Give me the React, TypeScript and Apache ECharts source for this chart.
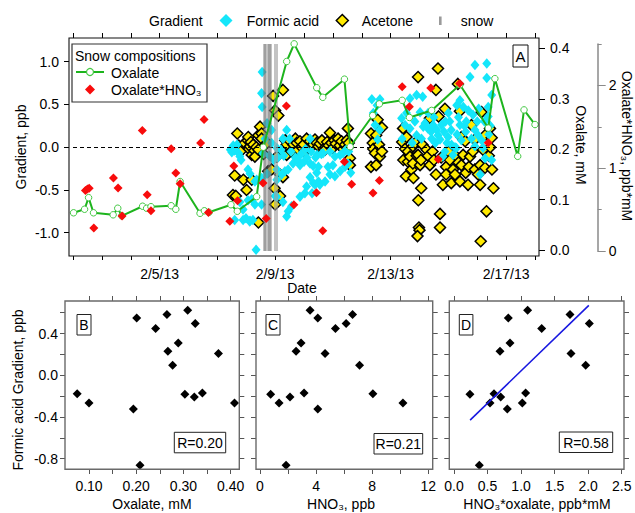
import React, { useEffect, useRef } from 'react';
import * as echarts from 'echarts';

const FONT = '"Liberation Sans", Arial, Helvetica, sans-serif';

// ---------- Panel A data ----------
const dateLabelDays = [5, 9, 13, 17];

const oxalateDates = [2.02, 2.40, 2.54, 2.71, 3.39, 3.55, 3.69, 4.41, 4.55, 4.70, 5.40, 5.56, 5.71, 6.40, 6.55, 6.71, 7.47, 7.69, 8.36, 8.59, 9.40, 9.66, 10.44, 10.65, 11.40, 11.60, 12.38, 12.61, 13.40, 13.65, 14.42, 15.40, 16.38, 16.61, 17.40, 17.62, 18.00];
const oxalateValues = [0.074, 0.081, 0.104, 0.074, 0.070, 0.083, 0.068, 0.087, 0.083, 0.086, 0.088, 0.081, 0.136, 0.073, 0.078, 0.075, 0.090, 0.077, 0.106, 0.204, 0.374, 0.409, 0.322, 0.303, 0.339, 0.205, 0.267, 0.290, 0.297, 0.263, 0.277, 0.328, 0.242, 0.340, 0.186, 0.278, 0.249];

const oxHno3Dates = [2.43, 2.50, 2.56, 2.72, 3.40, 3.56, 3.70, 4.40, 4.57, 4.70, 5.40, 5.56, 5.71, 6.42, 6.54, 6.69, 7.43, 7.57, 7.70, 8.58, 8.69, 9.39, 9.65, 10.43, 10.65, 11.40, 11.65, 12.39, 12.61, 13.40, 13.65, 14.39, 14.65, 15.39, 16.38];
const oxHno3Values = [0.731, 0.748, 0.758, 0.279, 0.881, 0.760, 0.424, 1.455, 0.679, 0.485, 1.236, 0.942, 0.812, 1.305, 1.588, 0.464, 0.358, 1.028, 0.608, 0.822, 0.394, 1.752, 0.558, 0.703, 0.246, 1.079, 0.806, 0.701, 0.852, 1.984, 1.742, 1.970, 1.109, 2.022, 1.307];

const snowDark = [8.61, 8.65, 8.69, 8.73, 8.77, 8.81, 8.85];
const snowLight = [8.99, 9.07];

const acetone: number[][] = [
  [7.54, -0.56], [7.60, -0.33], [7.64, -0.57], [7.69, 0.16], [7.74, 0.02], [7.80, -0.05], [7.90, -0.38], [7.95, 0.05], [8.01, -0.50], [8.05, 0.08], [8.07, 0.12], [8.10, -0.02], [8.13, 0.01], [8.16, 0.06], [8.19, -0.09], [8.19, -0.38], [8.24, 0.03], [8.28, -0.04], [8.30, -0.11], [8.35, 0.00], [8.42, -0.03], [8.42, 0.14], [8.42, -0.88], [8.48, 0.24], [8.53, 0.16], [8.53, 0.10], [8.60, -0.08], [8.65, 0.03], [8.72, 0.05], [8.76, -0.28], [8.88, -0.26], [8.93, 0.60], [8.98, -0.48], [9.00, 0.43], [9.00, -0.67], [9.06, -0.11], [9.11, 0.37], [9.17, -0.32], [9.17, -0.57], [9.27, 0.67], [9.27, -0.35], [9.28, -0.05], [9.35, 0.08],
  [9.40, 0.03], [9.40, -0.09], [9.52, 0.07], [9.57, -0.05], [9.63, 0.03], [9.70, 0.10], [9.75, 0.05], [9.80, -0.03], [9.86, 0.07], [9.92, 0.00], [9.98, 0.03], [10.03, -0.05], [10.09, 0.10], [10.15, -0.01], [10.21, 0.07], [10.27, 0.02], [10.32, 0.03], [10.38, 0.09], [10.44, 0.05], [10.50, 0.01], [10.55, 0.04], [10.62, 0.08], [10.68, -0.02], [10.73, -0.03], [10.80, 0.06], [10.86, 0.02], [10.90, 0.17], [10.95, 0.05], [11.00, -0.01], [11.05, 0.08], [11.10, 0.04], [11.18, 0.10], [11.24, 0.02], [11.30, 0.07], [11.36, -0.02], [11.42, 0.03], [11.48, 0.08], [11.50, -0.01], [11.52, 0.22], [11.59, -0.13], [11.59, -0.21], [11.55, 0.05],
  [12.32, 0.16], [12.32, -0.23], [12.38, 0.05], [12.40, -0.02], [12.46, -0.07], [12.50, 0.14], [12.50, -0.21], [12.55, 0.32], [12.60, 0.03], [12.63, -0.11], [12.70, -0.05], [12.70, 0.23],
  [13.40, 0.06], [13.43, 0.22], [13.44, -0.15], [13.50, -0.02], [13.53, -0.34], [13.55, 0.12], [13.60, -0.05], [13.60, -0.17], [13.67, -0.11], [13.72, -0.26], [13.77, 0.01], [13.77, -0.19], [13.79, -0.36], [13.85, 0.05], [13.90, -0.10], [13.95, 0.82], [13.95, -0.09], [13.96, -0.62], [13.98, -0.94], [14.00, -0.97], [13.93, -1.04], [14.02, -0.21], [14.06, -0.48], [14.05, -0.15], [14.10, 0.03],
  [14.25, -0.03], [14.30, -0.10], [14.36, 0.34], [14.36, -0.21], [14.45, -0.05], [14.50, -0.15], [14.57, 0.67], [14.57, -0.32], [14.64, 0.92], [14.66, 0.36], [14.71, -0.78], [14.71, -0.94], [14.75, -0.12], [14.81, -0.44], [14.88, 0.45], [14.92, -0.23], [14.92, -0.32], [15.00, -0.05], [15.05, -0.15], [15.10, -0.42], [15.16, -0.26], [15.23, -0.32], [15.25, -0.10], [15.33, 0.74], [15.35, -0.18], [15.40, 0.42], [15.40, -0.40], [15.45, 0.12], [15.45, -0.21], [15.51, -0.09], [15.58, 0.07], [15.60, -0.30], [15.68, -0.44], [15.71, -0.23], [15.75, -0.11], [15.80, 0.26], [15.85, -0.05], [15.92, 0.09], [15.92, -0.26], [16.03, -0.32], [16.10, -0.21], [16.10, -0.44], [16.12, -1.10], [16.15, 0.41], [16.20, -0.03], [16.27, 0.14], [16.27, -0.24], [16.32, -0.75], [16.40, -0.10], [16.44, 0.22], [16.45, 0.00], [16.50, 0.11], [16.51, -0.26], [16.56, -0.48],
];

const formicAcid: number[][] = [
  [7.45, -0.03], [7.50, -0.06], [7.55, 0.02], [7.60, -0.04], [7.60, -0.85], [7.68, 0.03], [7.74, -0.07], [7.78, -0.11], [7.78, -0.64], [7.82, -0.15], [7.89, -0.85], [7.89, -0.73], [7.99, -0.83], [8.06, -0.26], [8.06, -0.62], [8.12, -0.87], [8.13, -0.31], [8.13, -0.86], [8.19, -0.61], [8.23, -0.85], [8.30, -0.40], [8.30, -0.67], [8.34, -1.20], [8.36, -0.38], [8.53, -0.36], [8.53, -0.67], [8.53, 0.63], [8.55, 0.88], [8.55, 0.47], [8.58, -0.07], [8.65, 0.10], [8.72, 0.28], [8.72, -0.31],
  [8.80, -0.10], [8.88, 0.20], [8.88, 0.05], [8.95, -0.15], [9.00, -0.57], [9.06, -0.01], [9.06, -0.26], [9.06, -0.38], [9.06, -0.58], [9.10, -0.12], [9.20, -0.03], [9.23, -0.32], [9.27, 0.10], [9.27, -0.64], [9.30, -0.10], [9.34, -0.28], [9.40, 0.20], [9.40, -0.81], [9.45, -0.26], [9.45, -0.75], [9.50, 0.10], [9.55, -0.05], [9.57, -0.69], [9.62, -0.19], [9.70, -0.12], [9.79, -0.15], [9.86, -0.21], [9.86, -0.58], [9.90, -0.08], [10.00, -0.17], [10.03, -0.54], [10.05, -0.02], [10.09, -0.46], [10.10, -0.12], [10.21, 0.10], [10.21, -0.19], [10.21, -0.35], [10.25, -0.05], [10.28, -0.54], [10.32, -0.22], [10.32, -0.42], [10.38, -0.44], [10.40, -0.12], [10.44, -0.30], [10.45, -0.09], [10.50, -0.23], [10.50, -0.40], [10.55, -0.44], [10.60, -0.08],
  [10.66, -0.07], [10.73, -0.40], [10.83, -0.23], [10.90, -0.05], [10.90, -0.32], [11.00, -0.21], [11.07, -0.11], [11.07, -0.34], [11.25, -0.09], [11.25, -0.28], [11.35, -0.07], [11.42, -0.23], [11.46, -0.03], [11.52, -0.19], [11.55, -0.05], [11.62, -0.30],
  [12.35, 0.56], [12.40, 0.40], [12.46, 0.26], [12.53, 0.49], [12.55, 0.09], [12.62, 0.20], [12.63, 0.56],
  [13.38, 0.34], [13.40, 0.10], [13.50, 0.26], [13.55, 0.40], [13.67, 0.57], [13.67, 0.22], [13.75, 0.05], [13.84, 0.30], [13.90, 0.61], [13.90, 0.14], [14.02, 0.41], [14.07, 0.10], [14.11, 0.59], [14.13, 0.24], [14.19, 0.28], [14.29, 0.22], [14.30, 0.40], [14.40, 0.18], [14.42, 0.10], [14.47, 0.26], [14.50, 0.35], [14.55, 0.05], [14.60, 0.20], [14.64, 0.14], [14.71, 0.09], [14.76, 0.26], [14.81, -0.11], [14.85, 0.18], [14.88, -0.05], [14.90, 0.30], [14.95, 0.05], [14.99, 0.12], [15.00, 0.40], [15.05, 0.30], [15.10, 0.20], [15.11, 0.03], [15.16, -0.09], [15.23, 0.00], [15.28, -0.01], [15.29, 0.49], [15.30, 0.15], [15.35, 0.35], [15.40, 0.26], [15.40, 0.55], [15.45, 0.08], [15.52, 0.47], [15.55, 0.25], [15.60, 0.18], [15.62, 0.30], [15.69, 0.43], [15.75, 0.82], [15.80, 0.10], [15.85, 0.38], [15.92, 0.96], [15.92, 0.20], [15.92, 0.01], [16.00, 0.30], [16.03, 0.14], [16.05, 0.45], [16.10, -0.32], [16.15, 0.08], [16.20, -0.01], [16.25, 0.30], [16.27, -0.13], [16.33, 0.98], [16.33, 0.81], [16.38, 0.47], [16.38, 0.36], [16.40, 0.15], [16.45, 0.25], [16.50, 0.61], [16.50, -0.15],
];

// ---------- Panels B, C, D data (17 snow samples) ----------
const sampleOxalate = [0.075, 0.100, 0.201, 0.194, 0.208, 0.241, 0.265, 0.267, 0.277, 0.289, 0.303, 0.309, 0.325, 0.323, 0.340, 0.374, 0.408];
const sampleHno3 = [8.05, 10.19, 4.12, 4.12, 1.86, 5.38, 6.60, 2.57, 7.10, 2.93, 0.76, 3.57, 6.14, 2.14, 3.14, 4.64, 1.36];
const sampleProduct = [0.596, 1.018, 0.810, 0.795, 0.377, 1.307, 1.729, 0.686, 1.963, 0.835, 0.238, 1.098, 2.017, 0.696, 1.068, 1.744, 0.537];
const sampleGradient = [-0.176, -0.265, 0.549, -0.323, -0.863, 0.448, 0.582, 0.230, 0.096, 0.310, -0.181, 0.623, 0.496, -0.208, -0.170, 0.208, -0.265];
const regressionX = [0.24, 2.01];
const regressionY = [-0.43, 0.67];

const CYAN = '#14E6FA';
const YELLOW = '#FFEA00';
const RED = '#F80C0C';
const GREEN = '#1DB41D';
const GREEN_PT = '#44C844';
const BLUE = '#1818E0';

const zip = (a: number[], b: number[]) => a.map((v, i) => [v, b[i]]);

const near = (v: number, r: number) => Math.abs(v - r) < 1e-6;

const fmtDate = (v: number) => {
  const r = Math.round(v);
  return near(v, r) && dateLabelDays.includes(r) ? `2/${r}/13` : '';
};
const fmt1 = (v: number) => (Math.abs(v) < 1e-9 ? '0.0' : v.toFixed(1));
const fmtInt = (v: number) => (near(v, Math.round(v)) ? String(Math.round(v)) : '');
const fmtB = (v: number) => (Math.round(v * 100) % 10 === 0 ? v.toFixed(2) : '');
const fmtC = (v: number) => (Math.round(v) % 4 === 0 ? String(Math.round(v)) : '');
const fmtGradB = (v: number) => (Math.round(v * 10) % 4 === 0 ? fmt1(v) : '');

const tick = (len: number, color = '#000') => ({ show: true, inside: false, length: len, lineStyle: { color, width: 1 } });
const label = (extra: any = {}) => ({ color: '#000', fontSize: 14, fontFamily: FONT, ...extra });
const noLine = { show: false, onZero: false };
const base = { type: 'value', splitLine: { show: false }, axisLine: noLine };

const txt = (text: string, x: number, y: number, o: any = {}) => ({
  type: 'text',
  x,
  y,
  rotation: o.rot || 0,
  z: 120,
  silent: true,
  style: {
    text,
    fill: '#000',
    fontSize: o.size || 14,
    fontFamily: FONT,
    textAlign: o.align || 'left',
    textVerticalAlign: 'middle',
    verticalAlign: 'middle',
  },
});
const rect = (x: number, y: number, w: number, h: number, stroke: string, lw = 1, fill = 'none', z = 110) => ({
  type: 'rect',
  z,
  silent: true,
  shape: { x, y, width: w, height: h },
  style: { fill, stroke, lineWidth: lw },
});
const diamond = (cx: number, cy: number, r: number, fill: string, stroke = 'none', lw = 0) => ({
  type: 'polygon',
  z: 121,
  silent: true,
  shape: { points: [[cx, cy - r], [cx + r, cy], [cx, cy + r], [cx - r, cy]] },
  style: { fill, stroke, lineWidth: lw },
});

const BOT_TICK = '#555';
const BOT_FRAME = '#6a6a6a';

export default function App() {
  const ref = useRef<HTMLDivElement>(null);
  useEffect(() => {
    const chart = echarts.init(ref.current!, null, { renderer: 'svg' });
    const gridBase = { containLabel: false, outerBoundsMode: 'none' };
    const option: any = {
      animation: false,
      backgroundColor: '#fff',
      grid: [
        { ...gridBase, left: 73, top: 61.7, width: 462, height: 171 },
        { ...gridBase, left: 73, top: 48.4, width: 462, height: 201.7 },
        { ...gridBase, left: 73, top: 44, width: 462, height: 207 },
        { ...gridBase, left: 89, top: 312.7, width: 141.7, height: 146 },
        { ...gridBase, left: 260, top: 312.7, width: 168.3, height: 146 },
        { ...gridBase, left: 454, top: 312.7, width: 167.7, height: 146 },
      ],
      xAxis: [
        { ...base, gridIndex: 0, position: 'bottom', offset: 23.3, min: 2, max: 18, interval: 1, axisTick: tick(4), axisLabel: label({ margin: 11, formatter: fmtDate }) },
        { ...base, gridIndex: 0, position: 'top', offset: 23.7, min: 2, max: 18, interval: 1, axisTick: tick(5), axisLabel: { show: false } },
        { ...base, gridIndex: 1, min: 2, max: 18, show: false },
        { ...base, gridIndex: 2, min: 2, max: 18, show: false },
        { ...base, gridIndex: 3, position: 'bottom', offset: 10.3, min: 0.1, max: 0.4, interval: 0.05, axisTick: tick(5, BOT_TICK), axisLabel: label({ margin: 10, formatter: fmtB }) },
        { ...base, gridIndex: 3, position: 'top', offset: 11.7, min: 0.1, max: 0.4, interval: 0.05, axisTick: tick(5, BOT_TICK), axisLabel: { show: false } },
        { ...base, gridIndex: 4, position: 'bottom', offset: 10.3, min: 0, max: 12, interval: 2, axisTick: tick(5, BOT_TICK), axisLabel: label({ margin: 10, formatter: fmtC }) },
        { ...base, gridIndex: 4, position: 'top', offset: 11.7, min: 0, max: 12, interval: 2, axisTick: tick(5, BOT_TICK), axisLabel: { show: false } },
        { ...base, gridIndex: 5, position: 'bottom', offset: 10.3, min: 0, max: 2.5, interval: 0.5, axisTick: tick(5, BOT_TICK), axisLabel: label({ margin: 10, formatter: fmt1 }) },
        { ...base, gridIndex: 5, position: 'top', offset: 11.7, min: 0, max: 2.5, interval: 0.5, axisTick: tick(5, BOT_TICK), axisLabel: { show: false } },
      ],
      yAxis: [
        { ...base, gridIndex: 0, position: 'left', offset: 4, min: -1, max: 1, interval: 0.5, axisTick: tick(5), axisLabel: label({ margin: 10, formatter: fmt1 }) },
        { ...base, gridIndex: 1, position: 'right', offset: 4, min: 0, max: 0.4, interval: 0.1, axisTick: tick(6), axisLabel: label({ margin: 11, formatter: fmt1 }) },
        { ...base, gridIndex: 2, position: 'right', offset: 62.7, min: 0, max: 2.5, interval: 0.5, axisLine: { show: true, onZero: false, lineStyle: { color: '#8a8a8a', width: 1.5 } }, axisTick: tick(4, '#8a8a8a'), axisLabel: label({ margin: 11, formatter: fmtInt }) },
        { ...base, gridIndex: 2, position: 'right', offset: 62.7, min: 0, max: 2.5, interval: 0.5, axisTick: { ...tick(8, '#8a8a8a'), customValues: [0, 1, 2] }, axisLabel: { show: false } },
        { ...base, gridIndex: 3, position: 'left', offset: 24, min: -0.8, max: 0.6, interval: 0.2, axisTick: tick(5, BOT_TICK), axisLabel: label({ margin: 7, formatter: fmtGradB }) },
        { ...base, gridIndex: 3, position: 'right', offset: 8.6, min: -0.8, max: 0.6, interval: 0.2, axisTick: tick(5, BOT_TICK), axisLabel: { show: false } },
        { ...base, gridIndex: 4, position: 'left', offset: 4, min: -0.8, max: 0.6, interval: 0.2, axisTick: tick(5, BOT_TICK), axisLabel: { show: false } },
        { ...base, gridIndex: 4, position: 'right', offset: 4.4, min: -0.8, max: 0.6, interval: 0.2, axisTick: tick(5, BOT_TICK), axisLabel: { show: false } },
        { ...base, gridIndex: 5, position: 'left', offset: 4.7, min: -0.8, max: 0.6, interval: 0.2, axisTick: tick(5, BOT_TICK), axisLabel: { show: false } },
        { ...base, gridIndex: 5, position: 'right', offset: 2.3, min: -0.8, max: 0.6, interval: 0.2, axisTick: tick(5, BOT_TICK), axisLabel: { show: false } },
      ],
      series: [
        {
          type: 'scatter', name: 'zero', xAxisIndex: 0, yAxisIndex: 0, data: [], z: 1, silent: true,
          markLine: { silent: true, symbol: ['none', 'none'], label: { show: false }, lineStyle: { color: '#000', type: [4, 3], width: 1 }, data: [{ yAxis: 0 }] },
        },
        {
          type: 'scatter', name: 'Acetone', xAxisIndex: 0, yAxisIndex: 0, data: acetone, symbol: 'diamond', symbolSize: 11, clip: false, z: 2,
          itemStyle: { color: YELLOW, borderColor: '#000', borderWidth: 1.5, opacity: 1 },
        },
        {
          type: 'scatter', name: 'snow', xAxisIndex: 3, yAxisIndex: 2, data: [], z: 3, silent: true,
          markLine: {
            silent: true, symbol: ['none', 'none'], label: { show: false },
            lineStyle: { type: 'solid' },
            data: [
              ...snowDark.map((d) => ({ xAxis: d, lineStyle: { color: 'rgba(115,115,115,0.55)', width: 1.6, type: 'solid' } })),
              ...snowLight.map((d) => ({ xAxis: d, lineStyle: { color: 'rgba(160,160,160,0.7)', width: 1.8, type: 'solid' } })),
            ],
          },
        },
        {
          type: 'scatter', name: 'Formic acid', xAxisIndex: 0, yAxisIndex: 0, data: formicAcid, symbol: 'diamond', symbolSize: [9, 10.5], clip: false, z: 4,
          itemStyle: { color: CYAN, opacity: 1 },
        },
        {
          type: 'line', name: 'Oxalate', xAxisIndex: 2, yAxisIndex: 1, data: zip(oxalateDates, oxalateValues), symbol: 'circle', symbolSize: 6.5, showAllSymbol: true, clip: false, z: 5,
          lineStyle: { color: GREEN, width: 2 }, itemStyle: { color: '#fff', borderColor: GREEN_PT, borderWidth: 1, opacity: 1 },
        },
        {
          type: 'scatter', name: 'Oxalate*HNO₃', xAxisIndex: 3, yAxisIndex: 2, data: zip(oxHno3Dates, oxHno3Values), symbol: 'diamond', symbolSize: 9, clip: false, z: 6,
          itemStyle: { color: RED, opacity: 1 },
        },
        {
          type: 'scatter', name: 'B', xAxisIndex: 4, yAxisIndex: 4, data: zip(sampleOxalate, sampleGradient), symbol: 'diamond', symbolSize: 9, clip: false,
          itemStyle: { color: '#000', opacity: 1 },
        },
        {
          type: 'scatter', name: 'C', xAxisIndex: 6, yAxisIndex: 6, data: zip(sampleHno3, sampleGradient), symbol: 'diamond', symbolSize: 9, clip: false,
          itemStyle: { color: '#000', opacity: 1 },
        },
        {
          type: 'scatter', name: 'D', xAxisIndex: 8, yAxisIndex: 8, data: zip(sampleProduct, sampleGradient), symbol: 'diamond', symbolSize: 9, clip: false,
          itemStyle: { color: '#000', opacity: 1 },
        },
        {
          type: 'line', name: 'fit', xAxisIndex: 8, yAxisIndex: 8, data: zip(regressionX, regressionY), symbol: 'none', clip: false, z: 3,
          lineStyle: { color: BLUE, width: 1.6 },
        },
      ],
      graphic: [
        // frames
        rect(69, 38, 470, 218, '#111', 1.1),
        rect(65, 301, 174.3, 168.3, BOT_FRAME, 1.4),
        rect(256, 301, 176.7, 168.3, BOT_FRAME, 1.4),
        rect(449.3, 301, 174.7, 168.3, BOT_FRAME, 1.4),
        // top legend
        txt('Gradient', 149, 20.5),
        diamond(226, 20.5, 6.5, CYAN),
        txt('Formic acid', 246.7, 20.5),
        diamond(342.3, 20.5, 6, YELLOW, '#000', 1.5),
        txt('Acetone', 361.7, 20.5),
        rect(439, 16.5, 2.6, 8.5, 'none', 0, '#9a9a9a'),
        txt('snow', 460.7, 20.5),
        // inner legend
        rect(72, 44, 135, 58, '#333', 1.2, '#fff', 115),
        txt('Snow compositions', 75, 55.5),
        { type: 'line', z: 121, silent: true, shape: { x1: 76, y1: 72, x2: 104, y2: 72 }, style: { stroke: GREEN, lineWidth: 2 } },
        { type: 'circle', z: 122, silent: true, shape: { cx: 90, cy: 72, r: 3.5 }, style: { fill: '#fff', stroke: GREEN_PT, lineWidth: 1.2 } },
        txt('Oxalate', 111, 72.5),
        diamond(90, 89.5, 5, RED),
        txt('Oxalate*HNO₃', 111, 89.5),
        // panel A tag
        rect(513, 45, 15, 22, '#111', 1, '#fff', 115),
        txt('A', 520.5, 56.5, { align: 'center', size: 15 }),
        // axis titles
        txt('Gradient, ppb', 21, 147, { rot: Math.PI / 2, align: 'center' }),
        txt('Oxalate, mM', 581, 145, { rot: -Math.PI / 2, align: 'center' }),
        txt('Oxalate*HNO₃, ppb*mM', 627, 146, { rot: -Math.PI / 2, align: 'center' }),
        txt('Date', 302, 288, { align: 'center' }),
        txt('Formic acid Gradient, ppb', 18, 390, { rot: Math.PI / 2, align: 'center' }),
        txt('Oxalate, mM', 152, 504, { align: 'center' }),
        txt('HNO₃, ppb', 341, 504, { align: 'center' }),
        txt('HNO₃*oxalate, ppb*mM', 537, 504, { align: 'center' }),
        // panel tags
        rect(77, 314.5, 14, 20.5, '#222', 1, '#fff', 115),
        txt('B', 84, 325, { align: 'center' }),
        rect(266, 314.5, 14, 20.5, '#222', 1, '#fff', 115),
        txt('C', 273, 325, { align: 'center' }),
        rect(459.3, 314.5, 13.6, 20.5, '#222', 1, '#fff', 115),
        txt('D', 466.1, 325, { align: 'center' }),
        // R boxes
        rect(174.3, 432.3, 51.4, 20.5, '#222', 1, '#fff', 115),
        txt('R=0.20', 200, 442.8, { align: 'center' }),
        rect(374, 433.5, 48.7, 20.5, '#222', 1, '#fff', 115),
        txt('R=0.21', 398.3, 444, { align: 'center' }),
        rect(559.3, 432, 53.4, 20.5, '#222', 1, '#fff', 115),
        txt('R=0.58', 586, 442.5, { align: 'center' }),
      ],
    };
    chart.setOption(option);
    return () => chart.dispose();
  }, []);
  return <div ref={ref} style={{ position: 'fixed', left: 0, top: 0, width: 635, height: 513 }} />;
}
